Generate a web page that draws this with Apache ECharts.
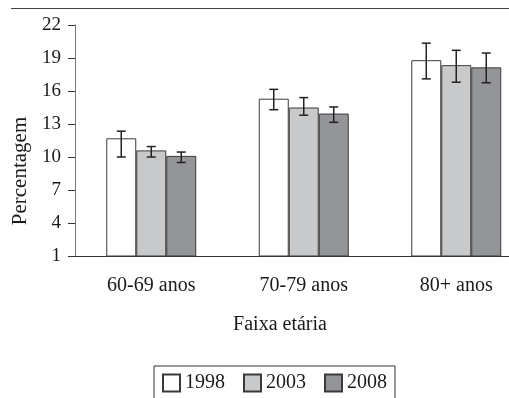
<!DOCTYPE html>
<html>
<head>
<meta charset="utf-8">
<script src="https://cdn.jsdelivr.net/npm/echarts@6/dist/echarts.min.js"></script>
<style>
html,body{margin:0;padding:0;background:#fff;}
#chart{width:509px;height:398px;}
</style>
</head>
<body>
<div id="chart"></div>
<script>
var categories = ['60-69 anos', '70-79 anos', '80+ anos'];
var seriesNames = ['1998', '2003', '2008'];
var values1998 = [11.7, 15.3, 18.8];
var values2003 = [10.6, 14.5, 18.35];
var values2008 = [10.1, 13.95, 18.15];
var low1998 = [10.0, 14.3, 17.1];
var high1998 = [12.35, 16.15, 20.35];
var low2003 = [10.0, 13.8, 16.8];
var high2003 = [10.95, 15.4, 19.7];
var low2008 = [9.5, 13.15, 16.75];
var high2008 = [10.45, 14.55, 19.45];
var yTicks = [1, 4, 7, 10, 13, 16, 19, 22];

var FONT = '"Liberation Serif", "DejaVu Serif", serif';
var colors = ['#ffffff', '#c8c9cb', '#939598'];
var BAR_W = 30;
var values = [values1998, values2003, values2008];
var lows = [low1998, low2003, low2008];
var highs = [high1998, high2003, high2008];

var chart = echarts.init(document.getElementById('chart'), null, {renderer: 'canvas'});

var series = [];
seriesNames.forEach(function (name, s) {
  series.push({
    name: name,
    type: 'bar',
    data: values[s],
    barWidth: BAR_W,
    barGap: '0%',
    itemStyle: {color: colors[s], borderColor: '#3a3a3a', borderWidth: 1},
    silent: true
  });
});
seriesNames.forEach(function (name, s) {
  var data = categories.map(function (c, i) { return [i, lows[s][i], highs[s][i]]; });
  series.push({
    type: 'custom',
    silent: true,
    z: 10,
    data: data,
    renderItem: function (params, api) {
      var ci = api.value(0);
      var lo = api.coord([ci, api.value(1)]);
      var hi = api.coord([ci, api.value(2)]);
      var x = lo[0] + (s - 1) * BAR_W;
      var cap = 4.5;
      var st = {stroke: '#222', lineWidth: 1.5};
      return {
        type: 'group',
        children: [
          {type: 'line', shape: {x1: x, y1: hi[1], x2: x, y2: lo[1]}, style: st},
          {type: 'line', shape: {x1: x - cap, y1: hi[1], x2: x + cap, y2: hi[1]}, style: st},
          {type: 'line', shape: {x1: x - cap, y1: lo[1], x2: x + cap, y2: lo[1]}, style: st}
        ]
      };
    }
  });
});

chart.setOption({
  animation: false,
  backgroundColor: '#ffffff',
  grid: {left: 75, width: 457.5, top: 25, height: 231, containLabel: false, outerBoundsMode: 'none'},
  title: {
    text: 'Faixa etária',
    left: 275, top: 310,
    textAlign: 'center',
    textStyle: {fontFamily: FONT, fontSize: 20, fontWeight: 'normal', color: '#1a1a1a'}
  },
  legend: {
    data: seriesNames,
    left: 154, top: 366,
    padding: [7, 8, 7, 8],
    itemWidth: 17, itemHeight: 17, itemGap: 18,
    icon: 'rect',
    borderColor: '#333', borderWidth: 1,
    textStyle: {fontFamily: FONT, fontSize: 20, color: '#1a1a1a'},
    selectedMode: false
  },
  xAxis: {
    type: 'category',
    data: categories,
    axisLine: {show: true, lineStyle: {color: '#333', width: 1.2}},
    axisTick: {show: false},
    axisLabel: {fontFamily: FONT, fontSize: 20, color: '#1a1a1a', margin: 20},
    splitLine: {show: false}
  },
  yAxis: {
    type: 'value',
    min: yTicks[0], max: yTicks[yTicks.length - 1], interval: 3,
    axisLine: {show: true, lineStyle: {color: '#777', width: 1}},
    axisTick: {show: true, length: 7, lineStyle: {color: '#333'}},
    axisLabel: {fontFamily: FONT, fontSize: 19, color: '#1a1a1a', margin: 14},
    splitLine: {show: false}
  },
  graphic: [
    {type: 'line', shape: {x1: 11, y1: 8.5, x2: 509, y2: 8.5}, style: {stroke: '#444', lineWidth: 1.2}},
    {type: 'text', x: 20, y: 171, rotation: Math.PI / 2,
     style: {text: 'Percentagem', font: '21px ' + FONT, fill: '#1a1a1a', textAlign: 'center', textVerticalAlign: 'middle'}}
  ],
  series: series
});
</script>
</body>
</html>
